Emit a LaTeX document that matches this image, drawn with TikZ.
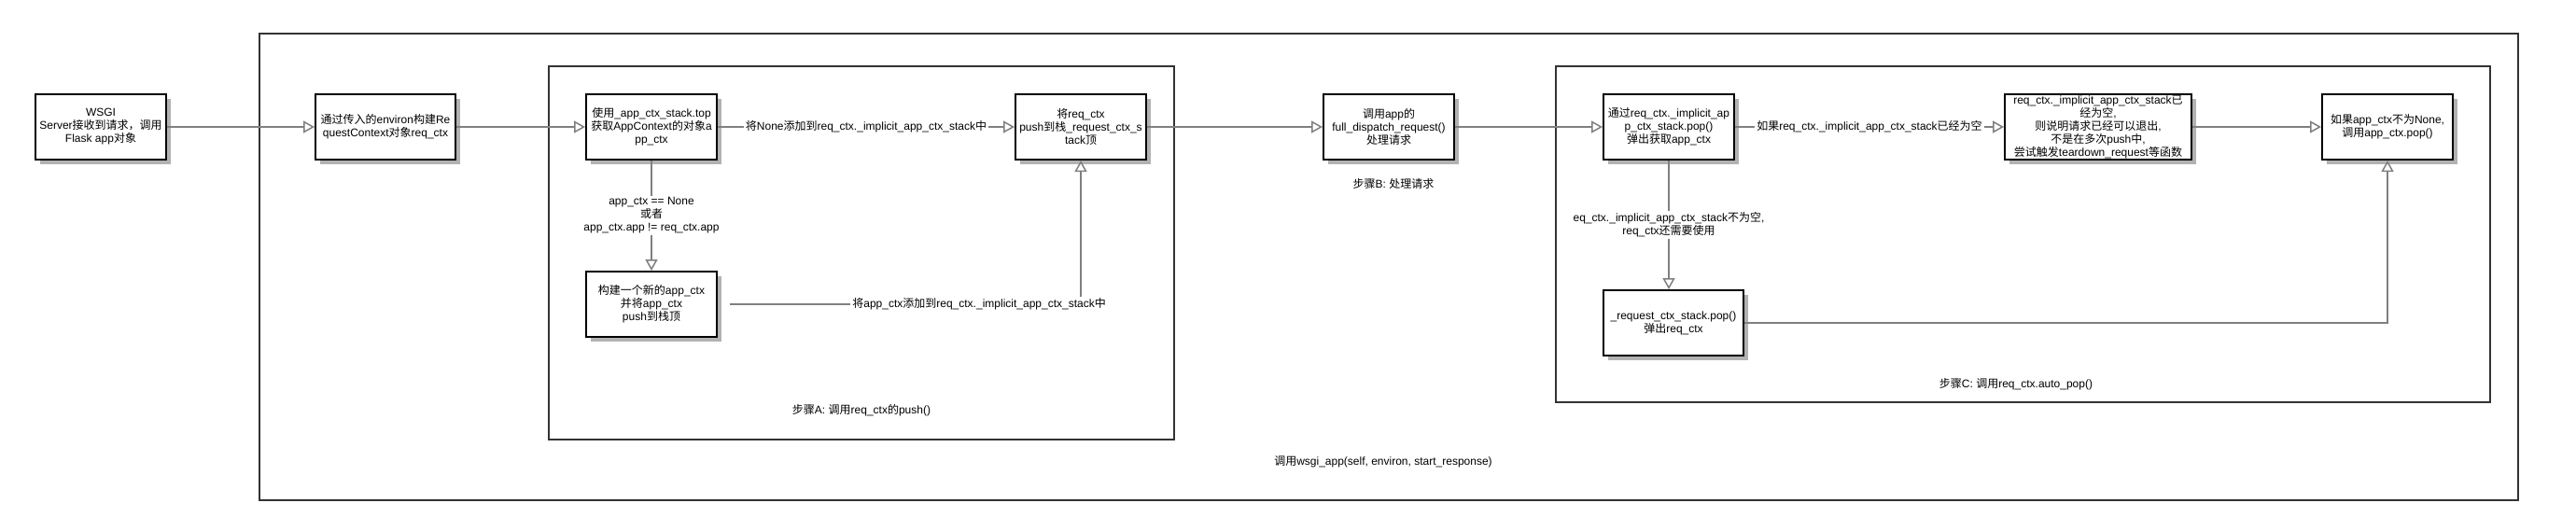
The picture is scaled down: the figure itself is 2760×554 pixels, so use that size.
\documentclass[tikz,border=0pt]{standalone}
\usepackage{fontspec}
\setmainfont{Liberation Sans}
\newfontfamily\cjk{Noto Sans CJK SC}
\usetikzlibrary{arrows.meta,shadows}
\newcommand{\zhtxt}[1]{{\cjk #1}}

\begin{document}
\begin{tikzpicture}[x=1pt,y=-1pt,
    proc/.style={draw=black, line width=2pt, fill=white, align=center,
      minimum width=140pt, minimum height=70pt, inner sep=1pt,
      font=\fontsize{12}{14}\selectfont,
      general shadow={fill=black!30, shadow xshift=5pt, shadow yshift=-5pt}},
    grp/.style={draw=black!80, line width=2pt},
    flow/.style={draw=black!50, line width=1.5pt, -{Triangle[open, length=12pt, width=13pt]}},
    note/.style={fill=white, inner sep=2pt, align=center, font=\fontsize{12}{14}\selectfont}]
      \useasboundingbox (0,0) rectangle (2760,554);

      \draw[grp] (278,36) rectangle (2698,536);
      \draw[grp] (588,71) rectangle (1258,471);
      \draw[grp] (1667,71) rectangle (2668,431);

      \node[proc] (wsgi) at (108,136) {WSGI\\Server\zhtxt{接收到请求，调用}\\Flask app\zhtxt{对象}};
      \node[proc, minimum width=150pt] (reqctx) at (413,136) {\zhtxt{通过传入的}environ\zhtxt{构建}Re\\questContext\zhtxt{对象}req\_ctx};

      % step A
      \node[proc] (getapp) at (698,136) {\zhtxt{使用}\_app\_ctx\_stack.top\\\zhtxt{获取}AppContext\zhtxt{的对象}a\\pp\_ctx};
      \node[proc] (pushreq) at (1158,136) {\zhtxt{将}req\_ctx\\push\zhtxt{到栈}\_request\_ctx\_s\\tack\zhtxt{顶}};
      \node[proc] (newapp) at (698,326) {\zhtxt{构建一个新的}app\_ctx\\\zhtxt{并将}app\_ctx\\push\zhtxt{到栈顶}};
      \node[note] (stepA) at (923,440) {\zhtxt{步骤}A: \zhtxt{调用}req\_ctx\zhtxt{的}push()};

      % step B
      \node[proc] (dispatch) at (1488,136) {\zhtxt{调用}app\zhtxt{的}\\full\_dispatch\_request()\\\zhtxt{处理请求}};
      \node[note] (stepB) at (1493,197) {\zhtxt{步骤}B: \zhtxt{处理请求}};

      % step C
      \node[proc] (popapp) at (1788,136) {\zhtxt{通过}req\_ctx.\_implicit\_ap\\p\_ctx\_stack.pop()\\\zhtxt{弹出获取}app\_ctx};
      \node[proc, minimum width=200pt] (teardown) at (2248,136) {req\_ctx.\_implicit\_app\_ctx\_stack\zhtxt{已}\\\zhtxt{经为空},\\\zhtxt{则说明请求已经可以退出},\\\zhtxt{不是在多次}push\zhtxt{中},\\\zhtxt{尝试触发}teardown\_request\zhtxt{等函数}};
      \node[proc] (apppop) at (2558,136) {\zhtxt{如果}app\_ctx\zhtxt{不为}None,\\\zhtxt{调用}app\_ctx.pop()};
      \node[proc, minimum width=150pt] (reqpop) at (1793,346) {\_request\_ctx\_stack.pop()\\\zhtxt{弹出}req\_ctx};
      \node[note] (stepC) at (2160,412) {\zhtxt{步骤}C: \zhtxt{调用}req\_ctx.auto\_pop()};

      \node[note] (wsgiapp) at (1482,495) {\zhtxt{调用}wsgi\_app(self, environ, start\_response)};

      \draw[flow] (wsgi) -- (reqctx);
      \draw[flow] (reqctx) -- (getapp);
      \draw[flow] (getapp) -- node[note] {\zhtxt{将}None\zhtxt{添加到}req\_ctx.\_implicit\_app\_ctx\_stack\zhtxt{中}} (pushreq);
      \draw[flow] (getapp) -- node[note] {app\_ctx == None\\\zhtxt{或者}\\app\_ctx.app != req\_ctx.app} (newapp);
      \draw[flow, shorten <=13pt] (newapp) -| node[note, pos=0.36] {\zhtxt{将}app\_ctx\zhtxt{添加到}req\_ctx.\_implicit\_app\_ctx\_stack\zhtxt{中}} (pushreq);
      \draw[flow] (pushreq) -- (dispatch);
      \draw[flow] (dispatch) -- (popapp);
      \draw[flow] (popapp) -- node[note] {\zhtxt{如果}req\_ctx.\_implicit\_app\_ctx\_stack\zhtxt{已经为空}} (teardown);
      \draw[flow] (popapp) -- node[note] {eq\_ctx.\_implicit\_app\_ctx\_stack\zhtxt{不为空},\\req\_ctx\zhtxt{还需要使用}} (popapp |- reqpop.north);
      \draw[flow] (teardown) -- (apppop);
      \draw[flow] (reqpop) -| (apppop);
\end{tikzpicture}
\end{document}
